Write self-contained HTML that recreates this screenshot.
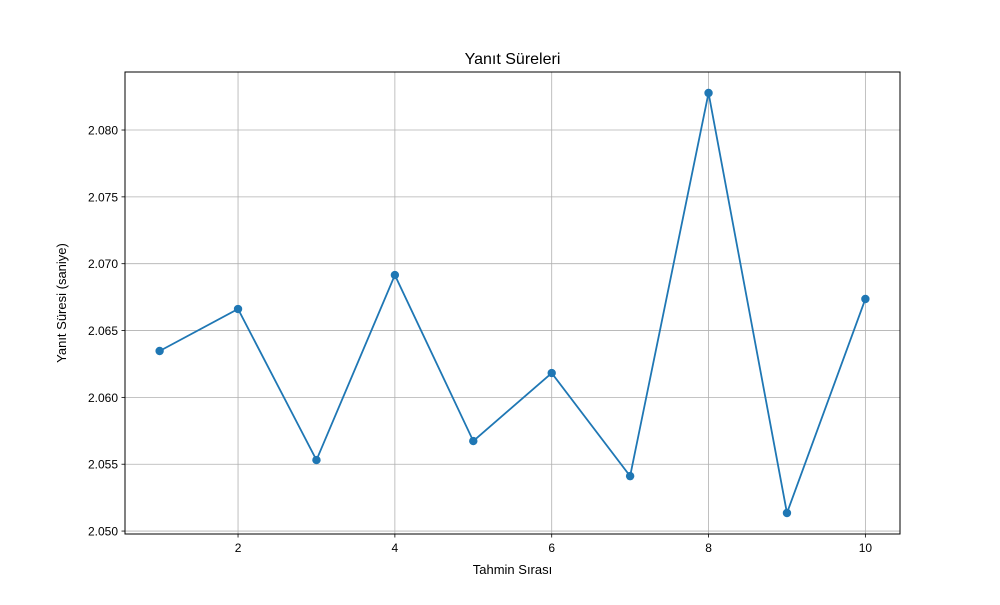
<!DOCTYPE html>
<html><head><meta charset="utf-8"><style>
body{margin:0;background:#fff;}
svg text{font-family:"Liberation Sans","DejaVu Sans",sans-serif;}
</style></head><body>
<svg id="chart" width="1000" height="600" xmlns="http://www.w3.org/2000/svg">
<rect width="1000" height="600" fill="#fff"/>
<text x="512.5" y="64" font-size="16" text-anchor="middle">Yanıt Süreleri</text>
<g id="grid"></g>
<g id="ticks"></g>
<rect x="125" y="72" width="775" height="462" fill="none" stroke="#000" stroke-width="1"/>
<g id="series"></g>
<text x="512.5" y="574" font-size="13" text-anchor="middle">Tahmin Sırası</text>
<text transform="translate(66,303) rotate(-90)" font-size="13" text-anchor="middle">Yanıt Süresi (saniye)</text>
</svg>
<script>
const categories=[1,2,3,4,5,6,7,8,9,10];
const values=[2.06347,2.06661,2.05531,2.06915,2.05673,2.06182,2.05411,2.08277,2.05135,2.06736];
const xTicks=[2,4,6,8,10];
const yTicks=[2.050,2.055,2.060,2.065,2.070,2.075,2.080];
const yTickLabels=["2.050","2.055","2.060","2.065","2.070","2.075","2.080"];
const L=125,R=900,T=72,B=534;
const xMin=0.5585,xMax=10.4415,yMin=2.04978,yMax=2.08434;
const xs=v=>L+(v-xMin)/(xMax-xMin)*(R-L);
const ys=v=>B-(v-yMin)/(yMax-yMin)*(B-T);
const NS="http://www.w3.org/2000/svg";
function mk(tag,attrs,parent){const e=document.createElementNS(NS,tag);for(const k in attrs)e.setAttribute(k,attrs[k]);parent.appendChild(e);return e;}
const grid=document.getElementById('grid'),ticks=document.getElementById('ticks'),series=document.getElementById('series');
xTicks.forEach(t=>{const x=xs(t);
 const g=mk('line',{x1:x,x2:x,y1:T,y2:B,stroke:'#b0b0b0','stroke-width':0.8},grid);
 
 
 mk('line',{x1:x,x2:x,y1:B,y2:B+3.5,stroke:'#000','stroke-width':0.8},ticks);
 const tx=mk('text',{x:x,y:B+18,'font-size':12,'text-anchor':'middle'},ticks);tx.textContent=t;
 
 
});
yTicks.forEach((t,i)=>{const y=ys(t);
 const g=mk('line',{x1:L,x2:R,y1:y,y2:y,stroke:'#b0b0b0','stroke-width':0.8},grid);
 
 
 mk('line',{x1:L-3.5,x2:L,y1:y,y2:y,stroke:'#000','stroke-width':0.8},ticks);
 const tx=mk('text',{x:L-7,y:y+4.5,'font-size':12,'text-anchor':'end'},ticks);tx.textContent=yTickLabels[i];
 
 
});
const pts=categories.map((c,i)=>xs(c)+','+ys(values[i])).join(' ');
const pl=mk('polyline',{points:pts,fill:'none',stroke:'#1f77b4','stroke-width':1.8},series);


categories.forEach((c,i)=>{
 const p=mk('circle',{cx:xs(c),cy:ys(values[i]),r:4.2,fill:'#1f77b4'},series);
 
 
});
</script>
</body></html>
